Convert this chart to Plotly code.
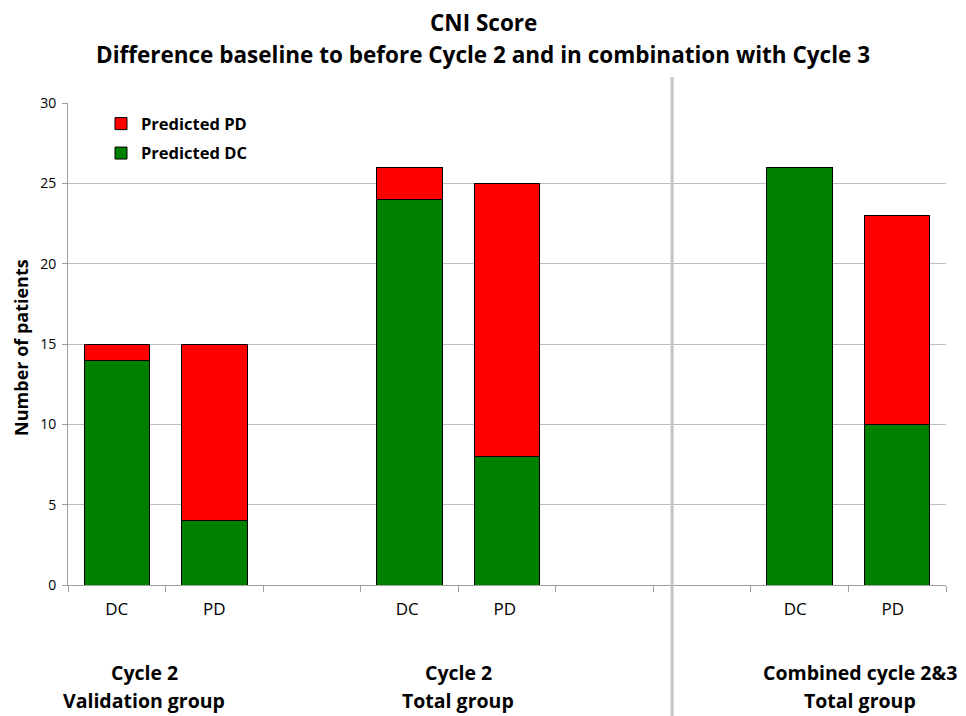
import plotly.graph_objects as go

categories = ["DC", "PD", " ", "DC ", "PD ", "  ", "   ", "DC  ", "PD  "]
predicted_dc = [14, 4, None, 24, 8, None, None, 26, 10]
predicted_pd = [1, 11, None, 2, 17, None, None, 0, 13]
group_line1 = ["Cycle 2", "Cycle 2", "Combined cycle 2&3"]
group_line2 = ["Validation group", "Total group", "Total group"]
group_pos = [0.28, 3.5, 7.62]
title_lines = ["CNI Score", "Difference baseline to before Cycle 2 and in combination with Cycle 3"]

FONT = "'Open Sans', sans-serif"
BLACK = "#000000"

fig = go.Figure()
fig.add_trace(go.Bar(x=categories, y=predicted_dc, name="<b>Predicted DC</b>", legendgroup="dc",
                     legendrank=2,
                     marker=dict(color="#008000", line=dict(color=BLACK, width=1)), width=0.67))
fig.add_trace(go.Bar(x=categories, y=predicted_pd, name="<b>Predicted PD</b>", legendgroup="pd",
                     legendrank=1,
                     marker=dict(color="#ff0000", line=dict(color=BLACK, width=1)), width=0.67))

for l1, l2, pos in zip(group_line1, group_line2, group_pos):
    fig.add_annotation(x=pos, xref="x", xanchor="center", y=-0.1805, yref="paper", yanchor="middle",
                       text="<b>%s</b>" % l1, showarrow=False,
                       font=dict(family=FONT, size=19.5, color=BLACK))
    fig.add_annotation(x=pos, xref="x", xanchor="center", y=-0.2386, yref="paper", yanchor="middle",
                       text="<b>%s</b>" % l2, showarrow=False,
                       font=dict(family=FONT, size=19.5, color=BLACK))

fig.add_annotation(x=0.4727, xref="paper", xanchor="center", y=1.168, yref="paper", yanchor="middle",
                   text="<b>%s</b>" % title_lines[0], showarrow=False,
                   font=dict(family=FONT, size=22.5, color=BLACK))
fig.add_annotation(x=0.4727, xref="paper", xanchor="center", y=1.0996, yref="paper", yanchor="middle",
                   text="<b>%s</b>" % title_lines[1], showarrow=False,
                   font=dict(family=FONT, size=22.5, color=BLACK))

fig.add_annotation(x=-0.0535, xref="paper", xanchor="center", y=0.492, yref="paper", yanchor="middle",
                   textangle=-90, text="<b>Number of patients</b>", showarrow=False,
                   font=dict(family=FONT, size=18, color=BLACK))

fig.add_shape(type="line", xref="paper", yref="paper", x0=0.688, x1=0.688, y0=1.054, y1=-0.28,
              line=dict(color="#c4c4c4", width=3))

fig.update_layout(
    barmode="stack",
    width=958, height=708,
    margin=dict(l=60, r=20, t=95, b=131),
    paper_bgcolor="white", plot_bgcolor="white",
    font=dict(family=FONT, color=BLACK),
    legend=dict(x=0.0376, y=0.993, xanchor="left", yanchor="top", traceorder="grouped",
                tracegroupgap=5,
                font=dict(family=FONT, size=16.5, color=BLACK), bgcolor="rgba(0,0,0,0)"),
    showlegend=True,
)
fig.update_xaxes(type="category", categoryorder="array", categoryarray=categories,
                 tickson="boundaries", ticks="outside", ticklen=6, tickcolor="#a0a0a0",
                 showline=True, linecolor="#a0a0a0", linewidth=1, showgrid=False,
                 ticklabelstandoff=9,
                 tickfont=dict(family=FONT, size=17, color=BLACK), range=[-0.5, 8.5])
fig.update_yaxes(range=[0, 30], dtick=5, ticks="outside", ticklen=5, tickcolor="#a0a0a0",
                 showline=True, linecolor="#a0a0a0", linewidth=1,
                 showgrid=True, gridcolor="#bdbdbd", gridwidth=1, zeroline=False,
                 ticklabelstandoff=3,
                 tickfont=dict(family=FONT, size=14, color=BLACK))

fig.write_html("out.html")
